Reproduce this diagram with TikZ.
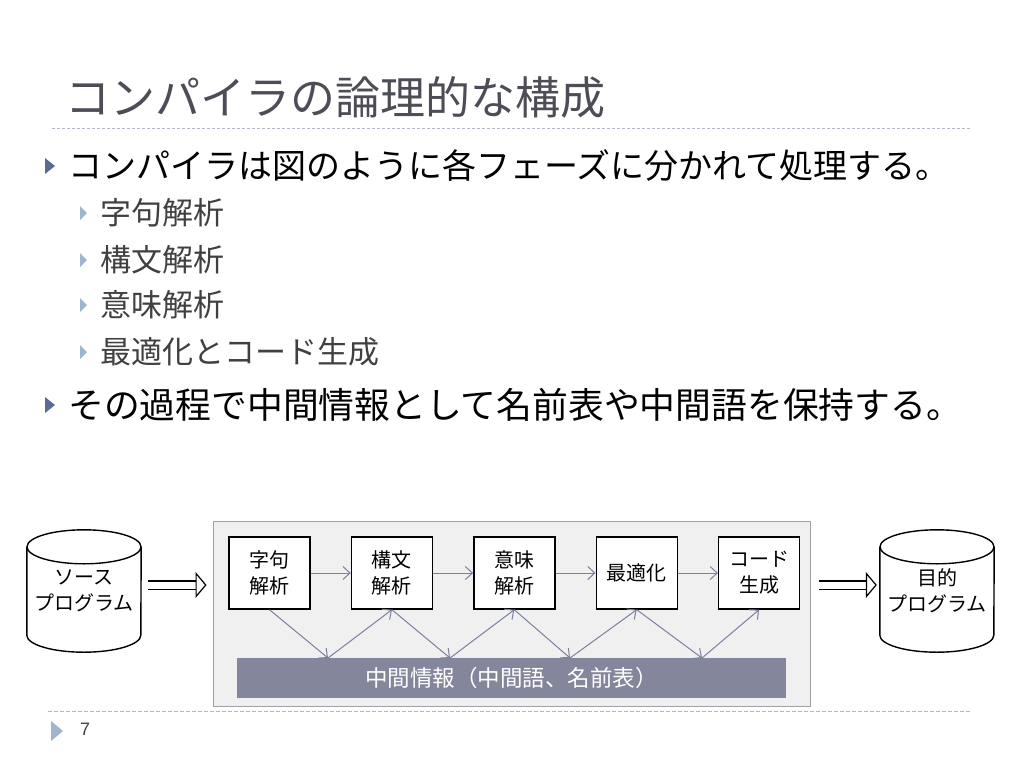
\documentclass[tikz,border=0pt]{standalone}
\usepackage{fontspec}
\setmainfont{Noto Sans CJK JP}
\newfontfamily\numfont{Liberation Sans}
\usetikzlibrary{arrows.meta, positioning, calc}
\definecolor{titlegray}{RGB}{77, 77, 87}
\definecolor{subgray}{RGB}{64, 64, 64}
\definecolor{rulegray}{RGB}{176, 184, 200}
\definecolor{bulletdark}{RGB}{93, 107, 146}
\definecolor{bulletlight}{RGB}{159, 181, 204}
\definecolor{framefill}{RGB}{240, 240, 240}
\definecolor{framedraw}{RGB}{160, 160, 168}
\definecolor{barfill}{RGB}{132, 134, 155}
\definecolor{flowblue}{RGB}{123, 128, 160}

\begin{document}
\begin{tikzpicture}[x=1pt, y=-1pt,
  line/.style={inner sep=0pt, anchor=west},
  phase/.style={draw, fill=white, line width=1.4pt, minimum width=81pt, minimum height=72pt, align=center, inner sep=0pt, font=\fontsize{20}{26}\selectfont},
  store/.style={minimum width=114pt, minimum height=88pt, align=center, inner sep=0pt, font=\fontsize{20}{26}\selectfont},
  flow/.style={draw=flowblue, line width=1pt, -{Straight Barb[length=7pt, width=13pt]}},
  bigarrow/.style={double, double distance=7pt, line width=1.2pt, -{Triangle[open, length=11pt, width=26pt]}}
]
  \useasboundingbox (0,0) rectangle (1024,768);

  % Title
  \node[line, text=titlegray, font=\fontsize{45}{54}\selectfont] (title) at (65,97) {コンパイラの論理的な構成};
  \draw[rulegray, line width=1pt, dash pattern=on 3pt off 2pt] (52,128) -- (972,128);

  % Bullets
  \fill[bulletdark] (45,158) -- (55,166) -- (45,174) -- cycle;
  \node[line, font=\fontsize{34}{40}\selectfont] (b1) at (68,166) {コンパイラは図のように各フェーズに分かれて処理する。};
  \foreach \y/\txt in {213/字句解析, 260/構文解析, 305/意味解析, 352/最適化とコード生成} {
    \fill[bulletlight] (80,\y-7) -- (87,\y) -- (80,\y+7) -- cycle;
    \node[line, text=subgray, font=\fontsize{31}{36}\selectfont] at (100,\y) {\txt};
  }
  \fill[bulletdark] (45,397) -- (55,405) -- (45,413) -- cycle;
  \node[line, font=\fontsize{35.8}{40}\selectfont] (b2) at (68,405) {その過程で中間情報として名前表や中間語を保持する。};

  % Compiler frame
  \node[draw=framedraw, fill=framefill, line width=1pt, minimum width=597pt, minimum height=185pt] (frame) at (511.5,613.5) {};
  \node[phase] (lex) at (269.5,573) {字句\\解析};
  \node[phase, right=40pt of lex] (syn) {構文\\解析};
  \node[phase, right=40pt of syn] (sem) {意味\\解析};
  \node[phase, right=40pt of sem] (opt) {最適化};
  \node[phase, right=40pt of opt] (gen) {コード\\生成};
  \node[fill=barfill, minimum width=549pt, minimum height=40pt, inner sep=0pt, text=white, font=\fontsize{22.5}{26}\selectfont] (info) at (511.5,678) {中間情報（中間語、名前表）};

  % Phase to phase
  \draw[flow] (lex) -- (syn);
  \draw[flow] (syn) -- (sem);
  \draw[flow] (sem) -- (opt);
  \draw[flow] (opt) -- (gen);

  % Through the intermediate information
  \coordinate (m1) at (328,658);
  \coordinate (m2) at (450,658);
  \coordinate (m3) at (570,658);
  \coordinate (m4) at (702,658);
  \draw[flow] (lex.south) -- (m1);
  \draw[flow] (m1) -- (syn.south);
  \draw[flow] (syn.south) -- (m2);
  \draw[flow] (m2) -- (sem.south);
  \draw[flow] (sem.south) -- (m3);
  \draw[flow] (m3) -- (opt.south);
  \draw[flow] (opt.south) -- (m4);
  \draw[flow] (m4) -- (gen.south);

  % Source and target
  \node[store] (src) at (84,591) {ソース\\プログラム};
  \node[store] (tgt) at (937,591) {目的\\プログラム};
  \foreach \n in {src, tgt} {
    \draw[line width=1.4pt] (\n.north west) -- (\n.south west) arc[start angle=180, end angle=0, x radius=57, y radius=17] -- (\n.north east);
    \draw[line width=1.4pt] (\n.north) ellipse[x radius=57, y radius=17];
  }
  \draw[bigarrow, shorten <=7pt, shorten >=6pt] (src.east |- 0,585) -- (frame.west |- 0,585);
  \draw[bigarrow, shorten <=8pt, shorten >=3pt] (frame.east |- 0,585) -- (tgt.west |- 0,585);

  % Footer
  \draw[rulegray, line width=1pt, dash pattern=on 4pt off 2pt] (48,711) -- (972,711);
  \fill[bulletlight] (51,721) -- (63,731) -- (51,741) -- cycle;
  \node[line, text=subgray, font=\numfont\fontsize{18}{20}\selectfont] (page) at (80,729) {7};
\end{tikzpicture}
\end{document}
